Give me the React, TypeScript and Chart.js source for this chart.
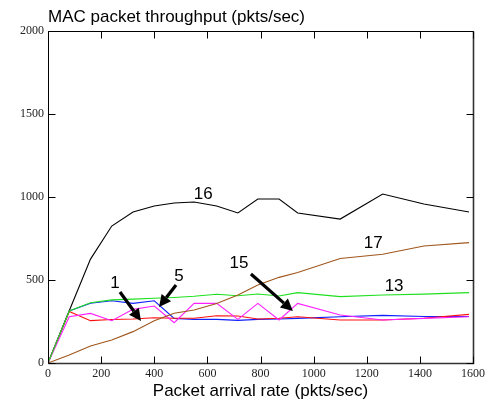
import React, { useEffect, useRef } from "react";
import { Chart, registerables } from "chart.js";
Chart.register(...registerables);

// arrival rates (pkts/sec)
const xRates = [0, 80, 160, 240, 320, 400, 475, 550, 635, 715, 790, 870, 940, 1100, 1260, 1415, 1585];
// throughput per node (pkts/sec)
const node16 = [0, 315, 626, 825, 910, 946, 964, 970, 946, 904, 988, 988, 904, 867, 1018, 958, 910];
const node17 = [0, 48, 102, 139, 189, 255, 300, 319, 359, 410, 470, 516, 545, 630, 655, 705, 725];
const node13 = [0, 313, 363, 380, 385, 390, 395, 402, 414, 405, 416, 404, 424, 400, 410, 415, 424];
const node5 = [0, 313, 360, 375, 359, 375, 269, 263, 263, 257, 263, 265, 269, 279, 287, 280, 280];
const node1 = [0, 310, 255, 262, 265, 273, 270, 270, 285, 283, 265, 270, 279, 259, 259, 270, 293];
const node15 = [0, 279, 299, 255, 323, 343, 243, 359, 359, 263, 359, 259, 359, 289, 259, 269, 279];

const xTickStep = 200;
const yTickStep = 500;
const xMax = 1600;
const yMax = 2000;

const chartTitle = "MAC packet throughput (pkts/sec)";
const xTitle = "Packet arrival rate (pkts/sec)";

// curve labels in data units
const labelTexts = ["16", "17", "13", "15", "1", "5"];
const labelX = [584, 1224, 1303, 719, 252, 493];
const labelY = [1018, 723, 464, 602, 482, 524];
// arrows in data units: from -> to
const arrowFromX = [271, 482, 764];
const arrowFromY = [428, 470, 536];
const arrowToX = [350, 418, 922];
const arrowToY = [253, 337, 313];

const sans = "'Liberation Sans', Arial, Helvetica, sans-serif";
const serif = "'Liberation Serif', 'Times New Roman', serif";

const toPts = (ys: number[]) => ys.map((y, i) => ({ x: xRates[i], y }));

const decor = {
  id: "decor",
  afterDatasetsDraw(chart: any) {
    const { ctx, chartArea: a, scales } = chart;
    const x = scales.x;
    const y = scales.y;
    const L = Math.round(a.left) + 0.5;
    const R = Math.round(a.right) + 0.5;
    const T = Math.round(a.top) + 0.5;
    const B = Math.round(a.bottom) + 0.5;
    const tick = 7;
    ctx.save();
    // frame
    ctx.strokeStyle = "#000";
    ctx.lineWidth = 1;
    ctx.beginPath();
    ctx.moveTo(L, B);
    ctx.lineTo(L, T);
    ctx.lineTo(R, T);
    ctx.stroke();
    ctx.strokeStyle = "#333";
    ctx.lineWidth = 1.6;
    ctx.beginPath();
    ctx.moveTo(L, B);
    ctx.lineTo(R, B);
    ctx.lineTo(R, T);
    ctx.stroke();
    // inward ticks
    ctx.strokeStyle = "#000";
    ctx.lineWidth = 1;
    ctx.beginPath();
    x.ticks.forEach((t: any) => {
      const px = Math.round(x.getPixelForValue(t.value)) + 0.5;
      ctx.moveTo(px, B);
      ctx.lineTo(px, B - tick);
      ctx.moveTo(px, T);
      ctx.lineTo(px, T + tick);
    });
    y.ticks.forEach((t: any) => {
      const py = Math.round(y.getPixelForValue(t.value)) + 0.5;
      ctx.moveTo(L, py);
      ctx.lineTo(L + tick, py);
      ctx.moveTo(R, py);
      ctx.lineTo(R - tick, py);
    });
    ctx.stroke();

    // chart title
    ctx.fillStyle = "#000";
    ctx.font = `17px ${sans}`;
    ctx.textAlign = "left";
    ctx.textBaseline = "middle";
    ctx.fillText(chartTitle, a.left, 17);

    // curve labels
    ctx.textAlign = "center";
    labelTexts.forEach((s, i) => {
      ctx.fillText(s, x.getPixelForValue(labelX[i]), y.getPixelForValue(labelY[i]));
    });

    // arrows
    arrowFromX.forEach((_, i) => {
      const x0 = x.getPixelForValue(arrowFromX[i]);
      const y0 = y.getPixelForValue(arrowFromY[i]);
      const x1 = x.getPixelForValue(arrowToX[i]);
      const y1 = y.getPixelForValue(arrowToY[i]);
      const ang = Math.atan2(y1 - y0, x1 - x0);
      const head = 12;
      const half = 6;
      const bx = x1 - head * Math.cos(ang);
      const by = y1 - head * Math.sin(ang);
      ctx.strokeStyle = "#000";
      ctx.lineWidth = 3.2;
      ctx.beginPath();
      ctx.moveTo(x0, y0);
      ctx.lineTo(bx, by);
      ctx.stroke();
      ctx.beginPath();
      ctx.moveTo(x1, y1);
      ctx.lineTo(bx + half * Math.sin(ang), by - half * Math.cos(ang));
      ctx.lineTo(bx - half * Math.sin(ang), by + half * Math.cos(ang));
      ctx.closePath();
      ctx.fill();
    });
    ctx.restore();
  },
};

export default function App() {
  const ref = useRef<HTMLCanvasElement>(null);
  useEffect(() => {
    if (!ref.current) return;
    const mk = (label: string, ys: number[], color: string) => ({
      label,
      data: toPts(ys),
      borderColor: color,
      backgroundColor: color,
      borderWidth: 1.1,
      pointRadius: 0,
      tension: 0,
      fill: false,
    });
    const chart = new Chart(ref.current, {
      type: "line",
      data: {
        datasets: [
          mk("17", node17, "#a0561c"),
          mk("13", node13, "#1fe01f"),
          mk("15", node15, "#ff20ff"),
          mk("1", node1, "#ff1010"),
          mk("5", node5, "#1020ff"),
          mk("16", node16, "#000000"),
        ],
      },
      options: {
        animation: false,
        responsive: false,
        layout: { padding: { top: 31, right: 19, left: 0, bottom: 0 } },
        plugins: { legend: { display: false }, tooltip: { enabled: false }, title: { display: false } },
        scales: {
          x: {
            type: "linear",
            min: 0,
            max: xMax,
            ticks: {
              stepSize: xTickStep,
              padding: 4,
              color: "#222",
              font: { family: serif, size: 12 },
              maxRotation: 0,
              callback: (v: any) => String(v),
            },
            grid: { display: false, drawTicks: false },
            border: { display: false },
            title: { display: true, text: xTitle, color: "#000", font: { family: sans, size: 17 }, padding: { top: 2, bottom: 0 } },
            afterFit: (s: any) => { s.height = 39; },
          },
          y: {
            type: "linear",
            min: 0,
            max: yMax,
            ticks: {
              stepSize: yTickStep,
              padding: 4,
              color: "#222",
              font: { family: serif, size: 12 },
              callback: (v: any) => String(v),
            },
            grid: { display: false, drawTicks: false },
            border: { display: false },
            afterFit: (s: any) => { s.width = 48; },
          },
        },
      },
      plugins: [decor],
    });
    return () => chart.destroy();
  }, []);
  return (
    <div style={{ position: "absolute", left: 0, top: 0, width: 492, height: 402, background: "#fff" }}>
      <canvas ref={ref} width={492} height={402} style={{ display: "block" }} />
    </div>
  );
}
